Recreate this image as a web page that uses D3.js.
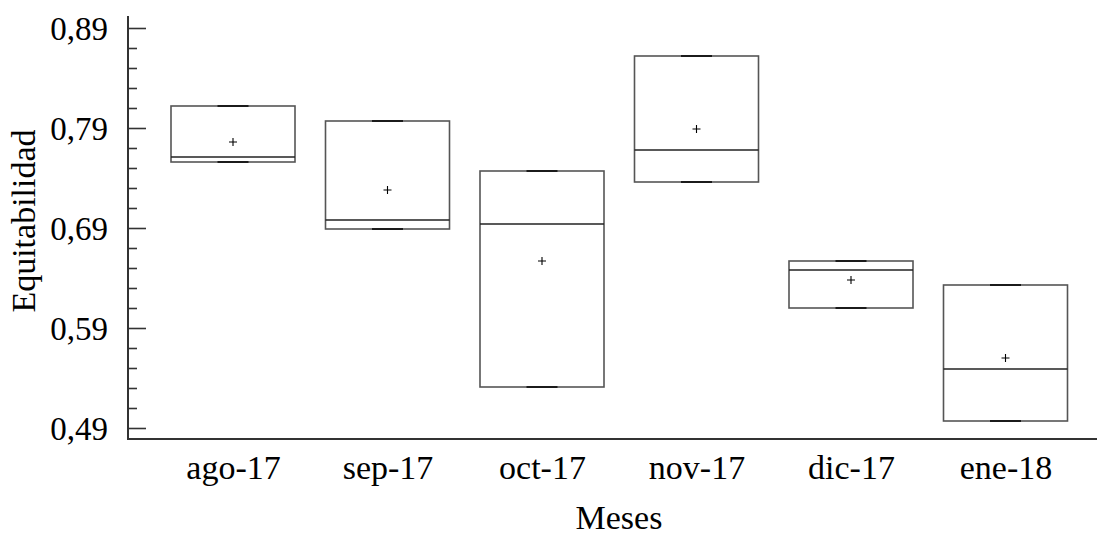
<!DOCTYPE html>
<html>
<head>
<meta charset="utf-8">
<script src="https://cdn.jsdelivr.net/npm/d3@7"></script>
</head>
<body style="margin:0;padding:0;background:#fff">
<svg id="chart" width="1097" height="536" style="display:block"></svg>
<script>
// Equitabilidad por mes: mínimo, mediana, máximo y media (n = 3 por mes)
const months = ["ago-17", "sep-17", "oct-17", "nov-17", "dic-17", "ene-18"];
const minValues = [0.756, 0.689, 0.531, 0.736, 0.610, 0.497];
const medianValues = [0.761, 0.698, 0.694, 0.768, 0.648, 0.549];
const maxValues = [0.812, 0.797, 0.747, 0.862, 0.657, 0.633];
const meanValues = [0.776, 0.728, 0.657, 0.789, 0.638, 0.560];
const majorTicks = [0.49, 0.59, 0.69, 0.79, 0.89];
const minorTicks = [0.51, 0.53, 0.55, 0.57, 0.61, 0.63, 0.65, 0.67,
                    0.71, 0.73, 0.75, 0.77, 0.81, 0.83, 0.85, 0.87];
const yExtent = [0.479, 0.902];

const FONT = "Liberation Serif";
const svg = d3.select("#chart").attr("font-family", FONT);
const axisX = 128;
const axisBottom = 439;

const y = d3.scaleLinear().domain([0.49, 0.89]).range([428, 28]);
const x = d3.scalePoint().domain(months).range([233, 1005.5]);
const boxW = 124;
const capW = 31;

const comma = d3.formatLocale({ decimal: ",", thousands: ".", grouping: [3], currency: ["", ""] }).format(".2f");

// eje Y: marcas principales hacia dentro con etiquetas
const gy = svg.append("g").attr("transform", `translate(${axisX},0)`);
gy.call(d3.axisLeft(y).tickValues(majorTicks).tickSize(-18).tickPadding(20).tickFormat(comma));
gy.attr("font-family", FONT);
gy.select(".domain").remove();
gy.selectAll(".tick line").attr("stroke", "#333").attr("stroke-width", 1.6);
gy.selectAll(".tick text")
  .attr("font-family", FONT)
  .attr("font-size", 33)
  .attr("dy", "0.34em");

// marcas secundarias
const gm = svg.append("g").attr("transform", `translate(${axisX},0)`);
gm.call(d3.axisLeft(y).tickValues(minorTicks).tickSize(-9).tickFormat(""));
gm.select(".domain").remove();
gm.selectAll(".tick line").attr("stroke", "#333").attr("stroke-width", 1.6);

// líneas de los ejes
svg.append("line")
  .attr("x1", axisX).attr("x2", axisX)
  .attr("y1", y(yExtent[1])).attr("y2", axisBottom)
  .attr("stroke", "#333").attr("stroke-width", 2);
svg.append("line")
  .attr("x1", axisX - 1).attr("x2", 1097)
  .attr("y1", axisBottom).attr("y2", axisBottom)
  .attr("stroke", "#333").attr("stroke-width", 2);

// etiquetas del eje X
const gx = svg.append("g").attr("transform", `translate(0,${axisBottom})`);
gx.call(d3.axisBottom(x).tickSize(0).tickPadding(0));
gx.attr("font-family", FONT);
gx.select(".domain").remove();
gx.selectAll(".tick text")
  .attr("font-family", FONT)
  .attr("y", 40)
  .attr("dy", 0)
  .attr("font-size", 34);

// cajas
const data = months.map((m, i) => ({
  m, lo: minValues[i], med: medianValues[i], hi: maxValues[i], mean: meanValues[i]
}));

const boxes = svg.append("g").selectAll("g").data(data).join("g")
  .attr("transform", d => `translate(${x(d.m)},0)`);

boxes.append("rect")
  .attr("x", -boxW / 2).attr("width", boxW)
  .attr("y", d => y(d.hi)).attr("height", d => y(d.lo) - y(d.hi))
  .attr("fill", "none").attr("stroke", "#555").attr("stroke-width", 1.6);

boxes.append("line")
  .attr("x1", -boxW / 2).attr("x2", boxW / 2)
  .attr("y1", d => y(d.med)).attr("y2", d => y(d.med))
  .attr("stroke", "#222").attr("stroke-width", 1.6);

// extremos de los bigotes
boxes.selectAll(".cap").data(d => [d.lo, d.hi]).join("line")
  .attr("class", "cap")
  .attr("x1", -capW / 2).attr("x2", capW / 2)
  .attr("y1", v => y(v)).attr("y2", v => y(v))
  .attr("stroke", "#111").attr("stroke-width", 1.8);

// media
boxes.append("path")
  .attr("d", d => `M-4,${y(d.mean)}H4M0,${y(d.mean) - 4}V${y(d.mean) + 4}`)
  .attr("stroke", "#000").attr("stroke-width", 1.1).attr("fill", "none");

// títulos de los ejes
svg.append("text")
  .attr("x", 619).attr("y", 529)
  .attr("text-anchor", "middle")
  .attr("font-family", FONT)
  .attr("font-size", 34)
  .attr("fill", "#000")
  .text("Meses");

svg.append("text")
  .attr("transform", "translate(35,221) rotate(-90)")
  .attr("text-anchor", "middle")
  .attr("font-family", FONT)
  .attr("font-size", 34)
  .attr("fill", "#000")
  .text("Equitabilidad");
</script>
</body>
</html>
